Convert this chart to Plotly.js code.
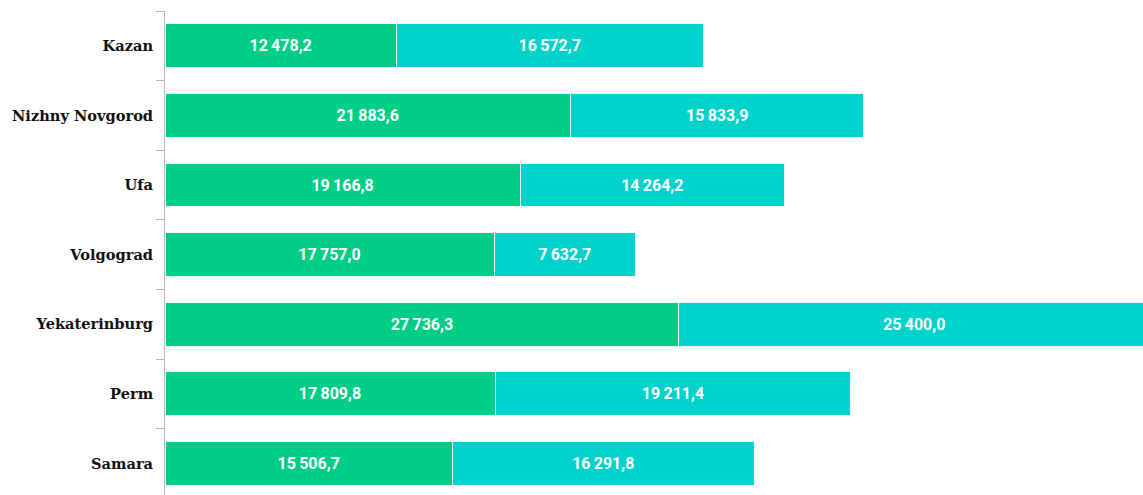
<!DOCTYPE html>
<html>
<head>
<meta charset="utf-8">
<script src="https://cdn.plot.ly/plotly-3.0.1.min.js"></script>
<style>
html,body{margin:0;padding:0;background:#fff;}
#chart{width:1143px;height:495px;}
</style>
</head>
<body>
<div id="chart"></div>
<script>
var cities = ["Kazan", "Nizhny Novgorod", "Ufa", "Volgograd", "Yekaterinburg", "Perm", "Samara"];
var seriesA = [12478.2, 21883.6, 19166.8, 17757.0, 27736.3, 17809.8, 15506.7];
var seriesB = [16572.7, 15833.9, 14264.2, 7632.7, 25400.0, 19211.4, 16291.8];

function fmt(v) {
  var s = v.toFixed(1).split(".");
  var intPart = s[0].replace(/\B(?=(\d{3})+(?!\d))/g, "\u2009");
  return intPart + "," + s[1];
}

var common = {
  type: "bar",
  orientation: "h",
  y: cities,
  textposition: "inside",
  insidetextanchor: "middle",
  constraintext: "none",
  textfont: {family: "Roboto, Open Sans, sans-serif", size: 16, color: "#ffffff", weight: "bold"},
  hoverinfo: "x+y"
};

var traceA = Object.assign({}, common, {
  x: seriesA,
  text: seriesA.map(fmt),
  marker: {color: "#00CE86", line: {color: "#e8fbf4", width: 1}},
  name: "A"
});
var traceB = Object.assign({}, common, {
  x: seriesB,
  text: seriesB.map(fmt),
  marker: {color: "#00D3CB", line: {color: "#e8fbf4", width: 1}},
  name: "B"
});

var layout = {
  width: 1143,
  height: 495,
  barmode: "stack",
  bargap: 0.37,
  showlegend: false,
  paper_bgcolor: "#ffffff",
  plot_bgcolor: "#ffffff",
  margin: {l: 165, r: 0, t: 11, b: 0, pad: 0},
  xaxis: {
    range: [0, 52780],
    visible: false,
    showgrid: false,
    zeroline: false
  },
  yaxis: {
    type: "category",
    range: [6.454, -0.5],
    showline: true,
    linecolor: "#b8b8b8",
    linewidth: 1,
    ticks: "outside",
    tickson: "boundaries",
    ticklen: 8,
    tickcolor: "#b8b8b8",
    showgrid: false,
    zeroline: false,
    ticklabelstandoff: 8,
    tickfont: {family: "DejaVu Serif, serif", size: 14.6, color: "#111111", weight: "bold"}
  }
};

Plotly.newPlot("chart", [traceA, traceB], layout, {displayModeBar: false, staticPlot: true});
</script>
</body>
</html>
